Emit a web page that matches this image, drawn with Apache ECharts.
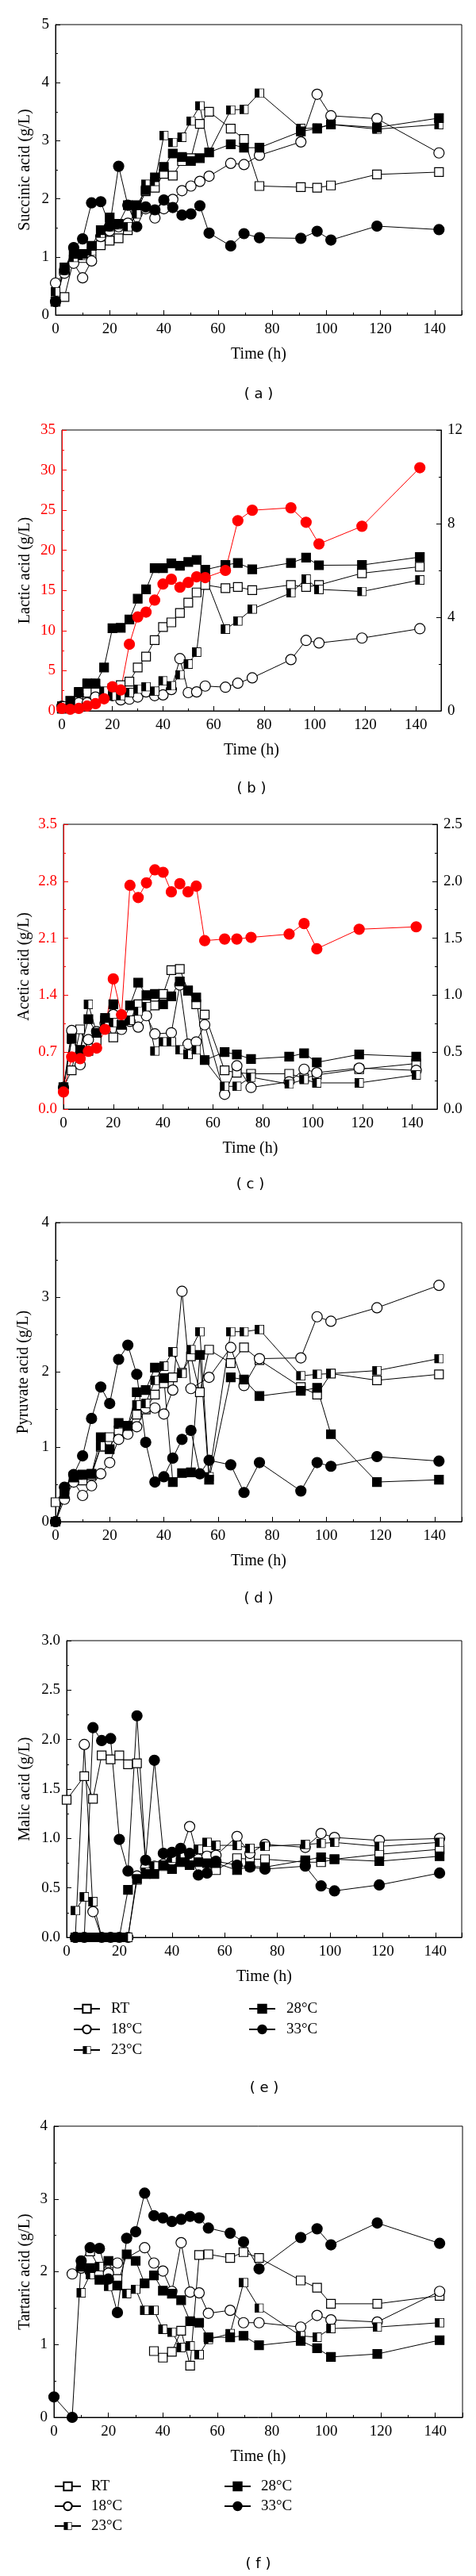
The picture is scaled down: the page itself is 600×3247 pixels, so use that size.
<!DOCTYPE html>
<html>
<head>
<meta charset="utf-8">
<title>Organic acids vs time</title>
<script src="https://cdn.jsdelivr.net/npm/echarts@6.0.0/dist/echarts.min.js"></script>
<style>
html, body { margin: 0; padding: 0; background: #fff; }
#main { width: 600px; height: 3247px; }
</style>
</head>
<body>
<div id="main"></div>
<script>
// sampling times (h), shared by all panels
var hours = [0, 3.3, 6.7, 10, 13.3, 16.7, 20, 23.3, 26.7, 30, 33.3, 36.7, 40, 43.3, 46.7, 50, 53.3, 56.7, 64.7, 69.6, 75.3, 90.6, 96.6, 101.7, 118.7, 141.6];

// (a) succinic acid g/L
var succRT = [0.23, 0.31, 0.95, 0.98, 1.02, 1.20, 1.28, 1.32, 1.46, 1.78, 2.13, 2.19, 2.43, 2.40, 2.65, 2.70, 3.29, 3.50, 3.21, 3.03, 2.22, 2.20, 2.19, 2.23, 2.42, 2.46];
var succ18 = [0.55, 0.72, 0.89, 0.64, 0.93, 1.35, 1.45, 1.52, 1.58, 1.78, 1.83, 1.67, 1.83, 1.99, 2.14, 2.22, 2.30, 2.39, 2.61, 2.59, 2.75, 2.98, 3.80, 3.43, 3.38, 2.79];
var succ23 = [0.40, 0.77, 0.99, 1.02, 1.10, 1.41, 1.52, 1.55, 1.52, 1.74, 2.25, 2.30, 3.09, 2.97, 3.06, 3.34, 3.60, 2.80, 3.53, 3.54, 3.82, 3.21, 3.22, 3.28, 3.20, 3.28];
var succ28 = [0.23, 0.82, 1.05, 1.05, 1.19, 1.46, 1.68, 1.57, 1.89, 1.89, 2.15, 2.37, 2.55, 2.78, 2.72, 2.65, 2.70, 2.80, 2.94, 2.88, 2.88, 3.16, 3.21, 3.28, 3.23, 3.39];
var succ33 = [0.23, 0.78, 1.16, 1.31, 1.93, 1.95, 1.53, 2.56, 1.89, 1.52, 1.86, 1.81, 1.98, 1.85, 1.72, 1.74, 1.88, 1.41, 1.19, 1.40, 1.33, 1.32, 1.44, 1.29, 1.53, 1.47];

// (b) lactic acid: 33C on red left axis, the rest on right axis
var lac33 = [0.3, 0.2, 0.3, 0.6, 0.9, 1.5, 3.0, 2.6, 8.3, 11.7, 12.3, 13.8, 15.8, 16.4, 15.4, 16.0, 16.7, 16.6, 17.5, 23.7, 25.0, 25.3, 23.5, 20.8, 23.0, 30.3];
var lacRT = [0.1, 0.11, 0.55, 0.40, 0.88, 0.65, 0.97, 1.10, 1.25, 1.85, 2.32, 3.02, 3.58, 3.78, 4.18, 4.62, 5.06, 5.38, 5.24, 5.29, 5.16, 5.38, 5.29, 5.38, 5.88, 6.16];
var lac18 = [0.2, 0.15, 0.34, 0.34, 0.59, 0.65, 0.65, 0.47, 0.50, 0.59, 0.81, 0.65, 0.68, 0.91, 2.23, 0.78, 0.81, 1.06, 1.01, 1.18, 1.41, 2.19, 3.01, 2.90, 3.11, 3.51];
var lac23 = [0.2, 0.40, 0.78, 1.18, 1.18, 0.84, 0.63, 0.65, 0.78, 0.93, 1.03, 0.84, 1.28, 1.07, 1.54, 2.00, 2.51, 5.72, 3.49, 3.84, 4.35, 5.04, 5.63, 5.19, 5.10, 5.59];
var lac28 = [0.1, 0.43, 0.81, 1.16, 1.16, 1.85, 3.53, 3.55, 3.90, 4.79, 5.19, 6.10, 6.10, 6.30, 6.20, 6.36, 6.45, 6.03, 6.23, 6.32, 6.05, 6.32, 6.55, 6.22, 6.23, 6.57];

// (c) acetic acid: 33C on red left axis, the rest on right axis
var ace33 = [0.21, 0.64, 0.62, 0.71, 0.75, 0.98, 1.60, 1.16, 2.75, 2.60, 2.78, 2.94, 2.91, 2.67, 2.77, 2.67, 2.74, 2.07, 2.09, 2.09, 2.11, 2.15, 2.28, 1.97, 2.21, 2.24];
var aceRT = [0.19, 0.34, 0.70, 0.51, 0.60, 0.78, 0.63, 0.80, 0.78, 0.92, 0.92, 0.91, 1.01, 1.22, 1.23, 1.04, 0.92, 0.83, 0.34, 0.32, 0.31, 0.31, 0.27, 0.30, 0.35, 0.40];
var ace18 = [0.19, 0.69, 0.39, 0.61, 0.68, 0.75, 0.83, 0.70, 0.77, 0.72, 0.82, 0.66, null, 0.67, 1.09, 0.57, 0.59, 0.74, 0.13, 0.38, 0.19, 0.24, 0.35, 0.32, 0.36, 0.34];
var ace23 = [0.19, 0.61, 0.51, 0.92, 0.67, 0.77, 0.76, 0.74, 0.78, 0.86, 0.90, 0.51, 0.59, 0.59, 0.52, 0.48, 0.52, 0.43, 0.20, 0.20, 0.28, 0.22, 0.26, 0.23, 0.23, 0.30];
var ace28 = [0.19, 0.62, 0.52, 0.79, 0.67, 0.80, 0.92, 0.74, 0.91, 1.11, 1.00, 1.01, 0.92, 0.99, 1.12, 1.04, 0.98, 0.43, 0.50, 0.48, 0.44, 0.46, 0.49, 0.41, 0.48, 0.46];

// (d) pyruvate acid
var pyrRT = [0.26, 0.43, 0.61, 0.55, 0.62, 1.00, 1.13, 1.22, 1.28, 1.43, 1.50, 1.70, 1.85, 1.93, 1.99, 2.21, 1.73, 2.30, 2.12, 2.33, 2.16, 1.80, 1.70, 1.98, 1.89, 1.97];
var pyr18 = [0.0, 0.30, 0.53, 0.35, 0.48, 0.64, 0.79, 1.10, 1.17, 1.27, 1.52, 1.52, 1.44, 1.76, 3.08, 1.78, null, 1.93, 2.33, 1.82, 2.18, 2.19, 2.74, 2.68, 2.86, 3.16];
var pyr23 = [0.0, 0.40, 0.60, 0.62, 0.64, 1.01, 0.97, 1.30, 1.28, 1.56, 1.58, 1.89, 2.08, 2.27, 1.98, 2.30, 2.54, 0.60, 2.54, 2.54, 2.57, 1.95, 1.97, 1.98, 2.02, 2.18];
var pyr28 = [0.0, 0.37, 0.59, 0.63, 0.64, 1.13, 0.97, 1.32, 1.28, 1.73, 1.76, 2.06, 1.92, 0.53, 0.65, 0.66, 2.23, 0.56, 1.93, 1.90, 1.68, 1.75, 1.79, 1.17, 0.53, 0.56];
var pyr33 = [0.0, 0.46, 0.63, 0.88, 1.38, 1.80, 1.58, 2.17, 2.36, 1.97, 1.06, 0.53, 0.60, 0.85, 1.10, 1.22, 0.64, 0.82, 0.76, 0.39, 0.79, 0.41, 0.79, 0.74, 0.87, 0.81];

// (e) malic acid
var malRT = [1.39, null, 1.63, 1.40, 1.84, 1.80, 1.84, 1.75, 1.76, 0.75, 0.72, 0.72, 0.78, 0.80, 0.75, 0.77, 0.82, 0.68, 0.80, 0.79, 0.79, 0.76, 0.76, 0.79, 0.84, 0.89];
var mal18 = [null, 0.0, 1.95, 0.26, 0.0, 0.0, 0.0, 0.0, 0.62, 0.70, 0.72, 0.74, 0.78, 0.85, 1.12, 0.79, 0.82, 0.83, 1.02, 0.85, 0.94, 0.91, 1.05, 1.01, 0.98, 1.00];
var mal23 = [null, 0.27, 0.41, 0.36, 0.0, 0.0, 0.0, 0.0, 0.58, 0.66, 0.72, 0.73, 0.80, 0.81, 0.79, 0.89, 0.96, 0.93, 0.93, 0.90, 0.92, 0.94, 0.95, 0.96, 0.92, 0.96];
var mal28 = [null, 0.0, 0.0, 0.0, 0.0, 0.0, 0.0, 0.48, 0.59, 0.64, 0.64, 0.73, 0.69, 0.76, 0.73, 0.76, 0.75, 0.75, 0.68, 0.72, 0.71, 0.78, 0.81, 0.79, 0.77, 0.82];
var mal33 = [null, 0.0, 0.0, 2.12, 1.99, 2.01, 0.99, 0.67, 2.24, 0.78, 1.79, 0.85, 0.86, 0.90, 0.85, 0.63, 0.65, 0.77, 0.73, 0.71, 0.69, 0.72, 0.52, 0.47, 0.53, 0.65];

// (f) tartaric acid
var tarRT = [null, null, null, null, 2.28, 2.05, 2.00, 1.90, null, null, null, 0.91, 0.82, 0.90, 1.19, 0.71, 2.23, 2.24, 2.19, 2.27, 2.19, 1.88, 1.78, 1.56, 1.56, 1.67];
var tar18 = [null, null, 1.97, 2.05, 2.00, 1.96, 1.98, 2.12, null, null, 2.33, 2.12, 2.01, 1.73, 2.40, 1.72, 1.71, 1.43, 1.47, 1.30, 1.30, 1.24, 1.40, 1.34, 1.31, 1.73];
var tar23 = [null, null, null, 1.71, 1.96, 2.07, 1.80, 1.81, 1.70, 1.76, 1.47, 1.47, 1.21, 1.17, 0.96, 0.98, 0.86, 1.07, 1.15, 1.85, 1.50, 1.12, 1.10, 1.22, 1.24, 1.30];
var tar28 = [null, null, null, 2.07, 2.05, 1.89, 2.15, 1.81, 2.24, 2.15, 1.84, 1.95, 1.74, 1.70, 1.61, 1.32, 1.30, 1.10, 1.10, 1.12, 0.99, 1.05, 0.95, 0.83, 0.87, 1.06];
var tar33 = [0.28, null, 0.0, 2.15, 2.33, 2.32, 1.90, 1.44, 2.46, 2.55, 3.08, 2.77, 2.74, 2.69, 2.72, 2.76, 2.74, 2.60, 2.53, 2.41, 2.04, 2.47, 2.59, 2.37, 2.67, 2.39];

var serif = 'Liberation Serif';
var red = '#ff0000';

// half filled square for 23 C
var halfSvg = '<svg xmlns="http://www.w3.org/2000/svg" width="24" height="24" viewBox="0 0 24 24">' +
    '<rect x="1" y="1" width="22" height="22" fill="#fff" stroke="#000" stroke-width="2"/>' +
    '<rect x="1" y="1" width="11" height="22" fill="#000"/></svg>';
var halfSymbol = 'image://data:image/svg+xml;charset=utf-8,' + encodeURIComponent(halfSvg);

var marks = {
    'RT':   {symbol: 'rect', size: 11, fill: '#fff'},
    '18°C': {symbol: 'circle', size: 13, fill: '#fff'},
    '23°C': {symbol: halfSymbol, size: 12, fill: '#000'},
    '28°C': {symbol: 'rect', size: 11, fill: '#000'},
    '33°C': {symbol: 'circle', size: 13, fill: '#000'}
};

// grid boxes [left, top, width, height]
var boxes = [
    [70, 31, 512, 366],
    [78, 542, 478, 354],
    [80, 1039, 471, 359],
    [70, 1541, 512, 377],
    [84, 2068, 498, 374],
    [68, 2680, 515, 367]
];

function pairs(vals) {
    return hours.map(function (h, i) {
        return [h, vals[i] == null ? '-' : vals[i]];
    });
}

function line(name, vals, xi, yi, color, noJoin) {
    var m = marks[name];
    var c = color || '#000';
    return {
        type: 'line', name: name, xAxisIndex: xi, yAxisIndex: yi,
        data: pairs(vals),
        symbol: m.symbol, symbolSize: m.size,
        connectNulls: !noJoin,
        lineStyle: {color: c, width: 1},
        itemStyle: {color: m.fill === '#000' ? c : m.fill, borderColor: c, borderWidth: 1.2},
        emphasis: {disabled: true},
        silent: true, z: 3
    };
}

function xAxisFor(gi) {
    return {
        type: 'value', gridIndex: gi, min: 0, max: 150, interval: 20,
        name: 'Time (h)', nameLocation: 'middle', nameGap: 40, nameMoveOverlap: false,
        nameTextStyle: {fontFamily: serif, fontSize: 20, color: '#000'},
        axisLine: {lineStyle: {color: '#000', width: 1}},
        axisTick: {inside: true, length: 6, lineStyle: {color: '#000'}},
        minorTick: {show: true, splitNumber: 2, length: 3, lineStyle: {color: '#000'}},
        axisLabel: {fontFamily: serif, fontSize: 19, color: '#000', margin: 9,
            formatter: function (v) { return v > 145 ? '' : String(v); }},
        splitLine: {show: false}, minorSplitLine: {show: false}
    };
}

function yAxisFor(gi, max, step, opts) {
    opts = opts || {};
    var c = opts.color || '#000';
    var digits = opts.digits || 0;
    return {
        type: 'value', gridIndex: gi, min: 0, max: max, interval: step,
        position: opts.right ? 'right' : 'left',
        name: opts.name || '', nameLocation: 'middle', nameGap: opts.gap || 30, nameMoveOverlap: false,
        nameTextStyle: {fontFamily: serif, fontSize: 20, color: '#000'},
        axisLine: {show: true, lineStyle: {color: c, width: 1}},
        axisTick: {show: true, inside: true, length: 6, lineStyle: {color: c}},
        minorTick: {show: true, splitNumber: 2, length: 3, lineStyle: {color: c}},
        axisLabel: {fontFamily: serif, fontSize: 19, color: c, margin: 8,
            formatter: function (v) { return v.toFixed(digits); }},
        splitLine: {show: false}, minorSplitLine: {show: false}
    };
}

var grids = boxes.map(function (b) {
    return {left: b[0], top: b[1], width: b[2], height: b[3], show: true,
        borderColor: '#000', borderWidth: 1, backgroundColor: 'transparent',
        outerBoundsMode: 'none', containLabel: false};
});

var yAxes = [
    yAxisFor(0, 5, 1, {name: 'Succinic acid (g/L)', gap: 28}),
    yAxisFor(1, 35, 5, {name: 'Lactic acid (g/L)', gap: 36, color: red}),
    yAxisFor(1, 12, 4, {right: true}),
    yAxisFor(2, 3.5, 0.7, {name: 'Acetic acid (g/L)', gap: 39, color: red, digits: 1}),
    yAxisFor(2, 2.5, 0.5, {right: true, digits: 1}),
    yAxisFor(3, 4, 1, {name: 'Pyruvate acid (g/L)', gap: 30}),
    yAxisFor(4, 3, 0.5, {name: 'Malic acid (g/L)', gap: 42, digits: 1}),
    yAxisFor(5, 4, 1, {name: 'Tartaric acid (g/L)', gap: 26})
];

var series = [
    line('RT', succRT, 0, 0), line('18°C', succ18, 0, 0), line('23°C', succ23, 0, 0),
    line('28°C', succ28, 0, 0), line('33°C', succ33, 0, 0),

    line('RT', lacRT, 1, 2), line('18°C', lac18, 1, 2), line('23°C', lac23, 1, 2),
    line('28°C', lac28, 1, 2), line('33°C', lac33, 1, 1, red),

    line('RT', aceRT, 2, 4), line('18°C', ace18, 2, 4), line('23°C', ace23, 2, 4),
    line('28°C', ace28, 2, 4), line('33°C', ace33, 2, 3, red),

    line('RT', pyrRT, 3, 5), line('18°C', pyr18, 3, 5), line('23°C', pyr23, 3, 5),
    line('28°C', pyr28, 3, 5), line('33°C', pyr33, 3, 5),

    line('RT', malRT, 4, 6), line('18°C', mal18, 4, 6), line('23°C', mal23, 4, 6),
    line('28°C', mal28, 4, 6), line('33°C', mal33, 4, 6),

    line('RT', tarRT, 5, 7, null, true), line('18°C', tar18, 5, 7), line('23°C', tar23, 5, 7),
    line('28°C', tar28, 5, 7), line('33°C', tar33, 5, 7)
];

function legendAt(names, left, top, gap, pad) {
    return {
        data: names, orient: 'vertical', left: left, top: top,
        itemWidth: 33, itemHeight: 13, itemGap: gap, selectedMode: false,
        padding: 0,
        textStyle: {fontFamily: serif, fontSize: 19, color: '#000', lineHeight: 20, padding: [0, 0, 0, pad]}
    };
}

var panelTags = ['( a )', '( b )', '( c )', '( d )', '( e )', '( f )'];
var tagY = [497, 994, 1493, 2015, 2632, 3232];
var graphics = panelTags.map(function (t, i) {
    var b = boxes[i];
    return {
        type: 'text', x: b[0] + b[2] / 2, y: tagY[i], silent: true,
        style: {text: t, fill: '#000', font: '18px "DejaVu Sans"', align: 'center', verticalAlign: 'middle'}
    };
});

var chart = echarts.init(document.getElementById('main'), null, {renderer: 'canvas'});
chart.setOption({
    animation: false,
    backgroundColor: '#fff',
    grid: grids,
    xAxis: boxes.map(function (b, i) { return xAxisFor(i); }),
    yAxis: yAxes,
    legend: [
        legendAt(['RT', '18°C', '23°C'], 92, 2522, 6, 9),
        legendAt(['28°C', '33°C'], 313, 2522, 6, 9),
        legendAt(['RT', '18°C', '23°C'], 68, 3124, 5, 8),
        legendAt(['28°C', '33°C'], 282, 3124, 5, 8)
    ],
    graphic: graphics,
    series: series
});
</script>
</body>
</html>
